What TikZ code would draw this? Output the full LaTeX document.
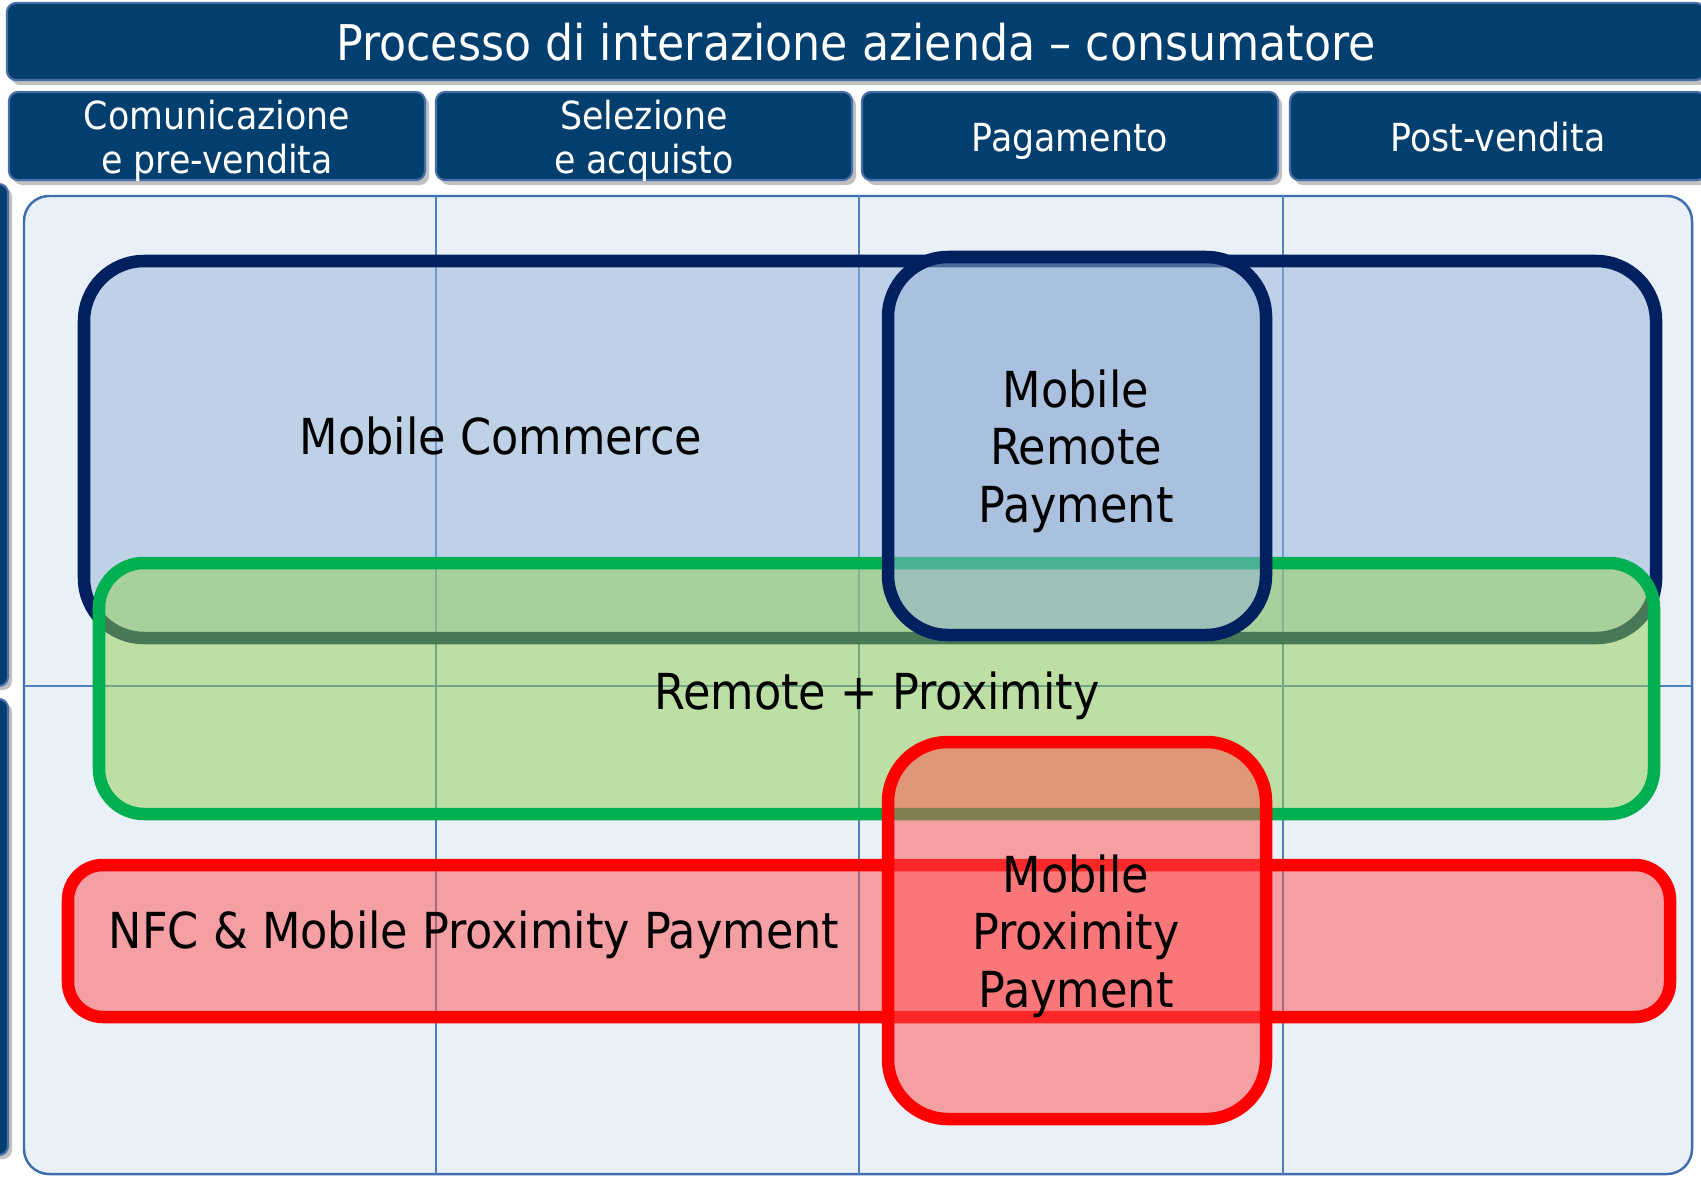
\documentclass[tikz,border=0pt]{standalone}
\usepackage{fontspec}
\setmainfont{DejaVu Sans Condensed}
\definecolor{hdrblue}{RGB}{2,62,110}
\definecolor{hdredge}{RGB}{72,110,170}
\definecolor{shadowgray}{RGB}{192,192,192}
\definecolor{panelfill}{RGB}{233,240,248}
\definecolor{paneledge}{RGB}{62,109,176}
\definecolor{gridblue}{RGB}{79,129,189}
\definecolor{navy}{RGB}{0,32,96}
\definecolor{mcblue}{RGB}{149,179,215}
\definecolor{rpgreen}{RGB}{0,176,80}
\definecolor{rpfill}{RGB}{146,208,80}
\definecolor{nfcred}{RGB}{255,0,0}
\definecolor{nfcfill}{RGB}{255,80,80}

\begin{document}
\begin{tikzpicture}[x=0.01cm, y=-0.01cm,
    hdr/.style={fill=hdrblue, draw=hdredge, line width=0.6pt, rounded corners=0.09cm},
    hdrshadow/.style={fill=shadowgray, rounded corners=0.09cm},
    area/.style={line width=0.125cm, fill opacity=0.5},
    lbl/.style={font=\fontsize{14.1}{16.3}\selectfont, align=center, inner sep=0pt}]
		\useasboundingbox (0,0) rectangle (1701,1176);
		\clip (0,0) rectangle (1701,1176);
		% title bar
		\fill[hdrshadow] (11,8) rectangle (1709,85);
		\draw[hdr] (7,3) rectangle (1705,80);
		\node[text=white, font=\fontsize{14}{16}\selectfont] (title) at (856,42) {Processo di interazione azienda -- consumatore};
		% phases
		\foreach \x/\y/\name/\txt in {9/141/comm/Comunicazione\\e pre-vendita, 436/141/sel/Selezione\\e acquisto,
		  862/141/pag/Pagamento, 1290/137/post/Post-vendita}
		  {
		    \fill[hdrshadow] (\x+4,96) rectangle (\x+420,185);
		    \draw[hdr] (\x,92) rectangle (\x+416,180);
		    \node[text=white, align=center, font=\fontsize{11}{12.5}\selectfont] (\name) at (\x+208,\y) {\txt};
		  }
		% row headers on the left
		\foreach \ya/\yb in {184/686, 699/1155}
		  {
		    \fill[hdrshadow] (-16,\ya+4) rectangle (12,\yb+4);
		    \draw[hdr] (-20,\ya) rectangle (8,\yb);
		  }
		% panel and grid
		\draw[fill=panelfill, draw=paneledge, line width=0.7pt, rounded corners=0.25cm] (24,196) rectangle (1692,1174);
		\foreach \x in {436,859,1283}
		  \draw[gridblue, line width=0.6pt] (\x,196) -- (\x,1174);
		\draw[gridblue, line width=0.6pt] (24,686) -- (1692,686);
		% areas
		\draw[area, draw=navy, fill=mcblue, rounded corners=0.6cm] (84,261) rectangle (1656,638);
		\draw[area, draw=rpgreen, fill=rpfill, rounded corners=0.45cm] (99,563) rectangle (1654,814);
		\draw[area, draw=navy, fill=mcblue, rounded corners=0.6cm] (888,257) rectangle (1266,635);
		\draw[area, draw=nfcred, fill=nfcfill, rounded corners=0.35cm] (68,865) rectangle (1670,1017);
		\draw[area, draw=nfcred, fill=nfcfill, rounded corners=0.6cm] (888,742) rectangle (1266,1119);
		% labels
		\node[lbl] (commerce) at (501,436) {Mobile Commerce};
		\node[lbl] (remote) at (1076,451) {Mobile\\Remote\\Payment};
		\node[lbl] (mixed) at (877,696) {Remote + Proximity};
		\node[lbl, anchor=west] (nfc) at (108,935) {NFC \& Mobile Proximity Payment};
		\node[lbl] (proximity) at (1076,936) {Mobile\\Proximity\\Payment};
	\end{tikzpicture}
\end{document}
